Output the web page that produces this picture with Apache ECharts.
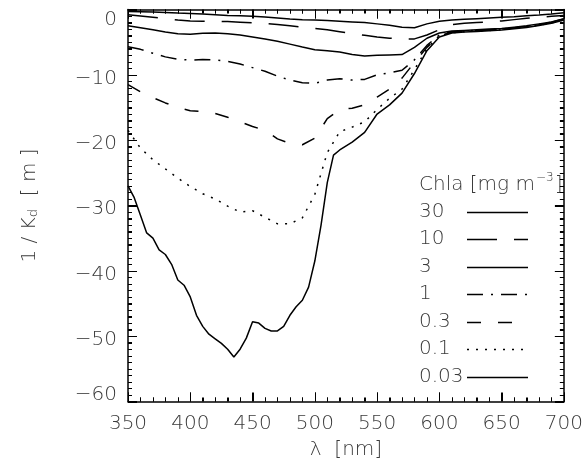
<!DOCTYPE html>
<html>
<head>
<meta charset="utf-8">
<script src="https://cdn.jsdelivr.net/npm/echarts@6/dist/echarts.min.js"></script>
<style>
html,body{margin:0;padding:0;background:#fff;}
#chart{width:586px;height:465px;}
</style>
</head>
<body>
<div id="chart"></div>
<script>
// Wavelength grid (nm) for the smoother curves
const wavelengths = [350,360,370,380,390,400,410,420,430,440,450,460,470,480,490,500,510,520,530,540,550,560,570,580,590,600,610,620,630,640,650,660,670,680,690,700];
// 1/Kd [m] per chlorophyll concentration
const chl30 = [-0.3,-0.35,-0.4,-0.45,-0.55,-0.6,-0.7,-0.8,-0.9,-0.95,-1.05,-1.15,-1.3,-1.45,-1.55,-1.6,-1.7,-1.8,-1.9,-2.0,-2.2,-2.4,-2.7,-2.8,-2.2,-1.8,-1.6,-1.5,-1.4,-1.3,-1.2,-1.1,-0.95,-0.85,-0.7,-0.5];
const chl10 = [-0.8,-1.0,-1.2,-1.4,-1.6,-1.75,-1.8,-1.8,-1.85,-1.95,-2.05,-2.15,-2.3,-2.5,-2.7,-2.9,-3.1,-3.4,-3.7,-3.95,-4.2,-4.4,-4.5,-4.5,-3.9,-3.1,-2.3,-2.1,-2.0,-1.9,-1.75,-1.55,-1.35,-1.2,-1.05,-0.9];
const chl3 = [-2.5,-2.8,-3.1,-3.45,-3.7,-3.8,-3.65,-3.6,-3.7,-3.9,-4.2,-4.5,-4.85,-5.3,-5.75,-6.15,-6.3,-6.5,-6.9,-7.1,-7.0,-6.95,-6.9,-5.8,-4.4,-3.6,-3.3,-3.2,-3.1,-3.0,-2.9,-2.7,-2.5,-2.2,-1.9,-1.4];
const chl1 = [-5.7,-6.1,-6.7,-7.25,-7.6,-7.75,-7.65,-7.7,-7.95,-8.35,-8.9,-9.45,-10.2,-10.8,-11.2,-11.3,-10.8,-10.6,-10.8,-10.7,-10.0,-9.7,-9.3,-7.7,-5.5,-3.9,-3.4,-3.3,-3.2,-3.1,-3.0,-2.8,-2.6,-2.3,-1.95,-1.45];
const chl03 = [-11.5,-12.6,-13.5,-14.3,-15.0,-15.5,-15.6,-15.9,-16.5,-17.2,-17.9,-18.5,-19.8,-20.5,-20.7,-19.7,-16.7,-15.3,-15.1,-14.6,-13.4,-12.2,-10.5,-8.1,-5.8,-4.0,-3.5,-3.35,-3.25,-3.15,-3.05,-2.85,-2.65,-2.35,-2.0,-1.5];
const chl01 = [-18.5,-21.2,-23.0,-24.4,-25.8,-27.1,-28.2,-29.0,-30.1,-31.0,-30.8,-31.8,-32.8,-32.8,-31.9,-28.3,-21.9,-18.7,-18.0,-17.2,-15.3,-13.6,-12.2,-9.2,-6.0,-4.0,-3.55,-3.4,-3.3,-3.2,-3.1,-2.9,-2.7,-2.4,-2.05,-1.55];
// Finer grid for the jagged 0.03 curve
const wavelengths003 = [350,355,360,365,370,375,380,385,390,395,400,405,410,415,420,425,430,435,440,445,450,455,460,465,470,475,480,485,490,495,500,505,510,515,520,530,540,550,560,570,580,590,600,610,620,630,640,650,660,670,680,690,700];
const chl003 = [-27.0,-28.8,-31.5,-34.2,-35.0,-36.8,-37.5,-39.0,-41.4,-42.2,-44.0,-46.8,-48.5,-49.7,-50.4,-51.1,-52.0,-53.2,-52.0,-50.3,-47.8,-48.0,-48.8,-49.2,-49.2,-48.5,-46.8,-45.5,-44.5,-42.5,-38.5,-33.0,-26.5,-22.3,-21.5,-20.3,-18.8,-16.0,-14.6,-12.8,-9.8,-6.3,-4.2,-3.6,-3.45,-3.35,-3.25,-3.15,-2.95,-2.75,-2.45,-2.1,-1.6];

const seriesNames = ['30','10','3','1','0.3','0.1','0.03'];
const xTicks = [350,400,450,500,550,600,650,700];
const yTicks = [0,-10,-20,-30,-40,-50,-60];

const FONT = 'DejaVu Sans';
const TXT = '#3a3a3a';
const FW = 300;

const lineTypes = ['solid',[30,17],'solid',[16,8,2,8],[14,17],[2,7],'solid'];
const seriesX = [wavelengths,wavelengths,wavelengths,wavelengths,wavelengths,wavelengths,wavelengths003];
const seriesY = [chl30,chl10,chl3,chl1,chl03,chl01,chl003];

const series = seriesNames.map((name, k) => ({
  name: name,
  type: 'line',
  xAxisIndex: 0, yAxisIndex: 0,
  symbol: 'none',
  smooth: false,
  animation: false,
  lineStyle: {color:'#000', width:1.5, type:lineTypes[k], cap:'butt'},
  data: seriesX[k].map((w,i)=>[w, seriesY[k][i]])
}));

const minus = v => v < 0 ? '\u2212' + (-v) : String(v);

// measure header text for placing the superscript
const mctx = document.createElement('canvas').getContext('2d');
mctx.font = FW + ' 20px "' + FONT + '"';
const headMain = 'Chla [mg m';
const wMain = mctx.measureText(headMain).width;
mctx.font = FW + ' 12px "' + FONT + '"';
const wSup = mctx.measureText('\u22123').width;

// key (drawn as graphics)
const keyLeft = 419, keyTop = 211.7, keyStep = 27.5, lineX1 = 467, lineX2 = 528;
const graphics = [];
graphics.push({type:'text', x:keyLeft, y:185, style:{text:headMain, fontFamily:FONT, fontSize:20, fontWeight:FW, fill:TXT, verticalAlign:'middle', textVerticalAlign:'middle'}});
graphics.push({type:'text', x:keyLeft + wMain + 1, y:178, style:{text:'\u22123', fontFamily:FONT, fontSize:12, fontWeight:FW, fill:TXT, verticalAlign:'middle', textVerticalAlign:'middle'}});
graphics.push({type:'text', x:keyLeft + wMain + wSup + 2, y:185, style:{text:']', fontFamily:FONT, fontSize:20, fontWeight:FW, fill:TXT, verticalAlign:'middle', textVerticalAlign:'middle'}});
seriesNames.forEach((name, k) => {
  const yc = keyTop + k * keyStep;
  graphics.push({type:'text', x:keyLeft, y:yc, style:{text:name, fontFamily:FONT, fontSize:20, fontWeight:FW, fill:TXT, verticalAlign:'middle', textVerticalAlign:'middle'}});
  const dash = lineTypes[k] === 'solid' ? null : lineTypes[k];
  graphics.push({type:'line', shape:{x1:lineX1, y1:Math.round(yc)+0.5, x2:lineX2, y2:Math.round(yc)+0.5}, style:{stroke:'#000', lineWidth:1.5, lineDash:dash}});
});

function frame(split) {
  return {
    axisLine:{show:true, onZero:false, lineStyle:{color:'#000', width:1.5}},
    axisTick:{show:true, inside:true, length:9, lineStyle:{color:'#000', width:1}},
    minorTick:{show:true, splitNumber:split, length:4, lineStyle:{color:'#000', width:1}},
    splitLine:{show:false},
    minorSplitLine:{show:false}
  };
}

const option = {
  animation:false,
  backgroundColor:'#fff',
  grid:{left:128, right:21, top:9.5, bottom:63.5, containLabel:false},
  graphic: graphics,
  xAxis:[
    Object.assign({
      type:'value', min:350, max:700, interval:50, position:'bottom',
      name:'\u03bb  [nm]', nameLocation:'middle', nameGap:38,
      nameTextStyle:{fontFamily:FONT, fontSize:20, color:TXT, fontWeight:FW},
      axisLabel:{show:true, margin:12, fontFamily:FONT, fontSize:20, color:TXT, fontWeight:FW, formatter: v => xTicks.includes(v) ? String(v) : ''}
    }, frame(5)),
    Object.assign({
      type:'value', min:350, max:700, interval:50, position:'top',
      axisLabel:{show:false}
    }, frame(5))
  ],
  yAxis:[
    Object.assign({
      type:'value', min:-60, max:0, interval:10, position:'left',
      name:'{a|1 / K}{b|d}{a|  [ m ]}', nameLocation:'middle', nameGap:88, nameRotate:90,
      nameTextStyle:{rich:{a:{fontFamily:FONT, fontSize:20, color:TXT, fontWeight:FW, lineHeight:24, verticalAlign:'bottom'}, b:{fontFamily:FONT, fontSize:13, color:TXT, fontWeight:FW, lineHeight:24, verticalAlign:'bottom'}}},
      axisLabel:{show:true, margin:11,
        formatter: v => {
          if (!yTicks.includes(v)) return '';
          if (v === 0) return '{top|' + minus(v) + '}';
          if (v === -60) return '{bot|' + minus(v) + '}';
          return '{m|' + minus(v) + '}';
        },
        rich:{
          top:{fontFamily:FONT, fontSize:20, color:TXT, fontWeight:FW, padding:[20,0,0,0]},
          bot:{fontFamily:FONT, fontSize:20, color:TXT, fontWeight:FW, padding:[0,0,14,0]},
          m:{fontFamily:FONT, fontSize:20, color:TXT, fontWeight:FW, padding:[7,0,0,0]}
        }
      }
    }, frame(10)),
    Object.assign({
      type:'value', min:-60, max:0, interval:10, position:'right',
      axisLabel:{show:false}
    }, frame(10))
  ],
  series: series
};

const chart = echarts.init(document.getElementById('chart'), null, {renderer:'canvas'});
chart.setOption(option);

// Frame ticks placed through the chart's own scales (inward, on all four sides)
const tl = chart.convertToPixel({gridIndex:0}, [350, 0]);
const br = chart.convertToPixel({gridIndex:0}, [700, -60]);
const xL = tl[0], yT = tl[1], xR = br[0], yB = br[1];
const tickGfx = [];
const seg = (x1,y1,x2,y2) => tickGfx.push({type:'line', silent:true, z:50, shape:{x1,y1,x2,y2}, style:{stroke:'#000', lineWidth:1}});
for (let w = 350; w <= 700; w += 10) {
  const px = Math.round(chart.convertToPixel({xAxisIndex:0}, w)) + 0.5;
  const len = (w % 50 === 0) ? 9 : 4;
  seg(px, yB, px, yB - len);
  seg(px, yT, px, yT + len);
}
for (let v = -60; v <= 0; v += 1) {
  const py = Math.round(chart.convertToPixel({yAxisIndex:0}, v)) + 0.5;
  const len = (v % 10 === 0) ? 9 : 4;
  seg(xL, py, xL + len, py);
  seg(xR, py, xR - len, py);
}
chart.setOption({graphic: graphics.concat(tickGfx)});
</script>
</body>
</html>
